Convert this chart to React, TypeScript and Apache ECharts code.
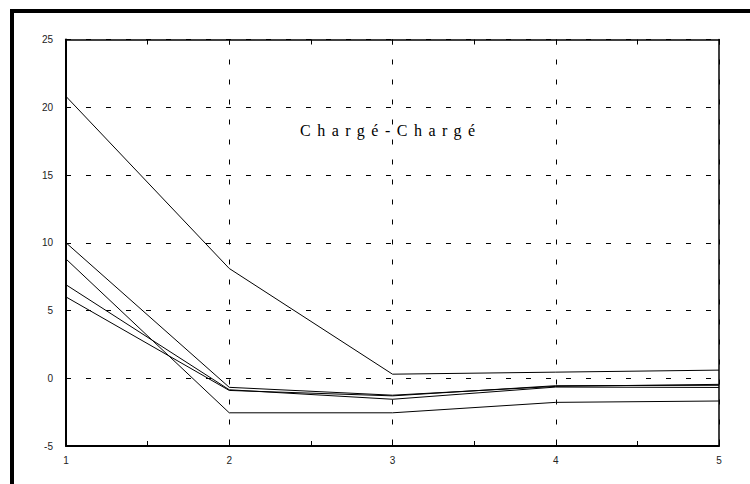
import React, { useEffect, useRef } from "react";
import * as echarts from "echarts";

const X_VALUES = [1, 2, 3, 4, 5];
const SERIES_A = [20.8, 8.1, 0.3, 0.45, 0.6];
const SERIES_B = [10.0, -0.67, -1.25, -0.6, -0.45];
const SERIES_C = [8.8, -2.55, -2.55, -1.78, -1.68];
const SERIES_D = [6.9, -0.85, -1.55, -0.65, -0.68];
const SERIES_E = [6.0, -0.9, -1.3, -0.55, -0.52];
const ALL_SERIES = [SERIES_A, SERIES_B, SERIES_C, SERIES_D, SERIES_E];
const TITLE = "Chargé-Chargé";

const LABEL_FONT = "'Liberation Sans', Arial, sans-serif";

export default function App() {
  const ref = useRef<HTMLDivElement>(null);

  useEffect(() => {
    if (!ref.current) return;
    const chart = echarts.init(ref.current, undefined, { renderer: "svg" });

    const series = ALL_SERIES.map((vals, i) => ({
      type: "line",
      name: "s" + i,
      data: X_VALUES.map((x, j) => [x, vals[j]]),
      xAxisIndex: 0,
      yAxisIndex: 0,
      symbol: "none",
      showSymbol: false,
      lineStyle: { color: "#000", width: 1 },
      itemStyle: { color: "#000" },
      silent: true,
    }));

    const dash = { type: [5, 15], color: "#000", width: 1 };

    chart.setOption({
      animation: false,
      backgroundColor: "#fff",
      grid: { left: 66, right: 31, top: 39.5, bottom: 38, containLabel: false },
      xAxis: [
        {
          type: "value",
          position: "bottom",
          min: 1,
          max: 5,
          interval: 1,
          axisLine: { show: true, onZero: false, lineStyle: { color: "#000", width: 2 } },
          axisTick: { show: true, inside: true, length: 5, lineStyle: { color: "#000" } },
          minorTick: { show: true, splitNumber: 2, length: 5, lineStyle: { color: "#000" } },
          axisLabel: { fontSize: 10, color: "#222", margin: 9, fontFamily: LABEL_FONT },
          splitLine: { show: true, lineStyle: dash },
        },
        {
          type: "value",
          position: "top",
          min: 1,
          max: 5,
          interval: 1,
          axisLine: { show: true, onZero: false, lineStyle: { color: "#000", width: 1.5 } },
          axisTick: { show: true, inside: true, length: 5, lineStyle: { color: "#000" } },
          minorTick: { show: true, splitNumber: 2, length: 5, lineStyle: { color: "#000" } },
          axisLabel: { show: false },
          splitLine: { show: false },
        },
      ],
      yAxis: [
        {
          type: "value",
          position: "left",
          min: -5,
          max: 25,
          interval: 5,
          axisLine: { show: true, onZero: false, lineStyle: { color: "#000", width: 2 } },
          axisTick: { show: false },
          axisLabel: {
            fontSize: 10,
            color: "#222",
            margin: 13,
            fontFamily: LABEL_FONT,
            padding: [5, 0, 0, 0],
          },
          splitLine: { show: true, lineStyle: dash },
        },
        {
          type: "value",
          position: "right",
          min: -5,
          max: 25,
          interval: 5,
          axisLine: { show: true, onZero: false, lineStyle: { color: "#000", width: 1.5 } },
          axisTick: { show: false },
          axisLabel: { show: false },
          splitLine: { show: false },
        },
      ],
      graphic: [
        {
          type: "rect",
          silent: true,
          shape: { x: 10, y: 9, width: 4, height: 475 },
          style: { fill: "#000" },
        },
        {
          type: "rect",
          silent: true,
          shape: { x: 10, y: 9, width: 740, height: 4 },
          style: { fill: "#000" },
        },
        {
          type: "text",
          silent: true,
          x: 300,
          y: 130,
          style: {
            text: TITLE,
            fill: "#000",
            fontSize: 16,
            fontFamily: "'Liberation Serif', 'Times New Roman', serif",
            textAlign: "left",
            textVerticalAlign: "middle",
          },
        },
      ],
      series,
    });

    const applySpacing = () => {
      if (!ref.current) return;
      ref.current.querySelectorAll("text").forEach((t) => {
        if (t.textContent === TITLE) {
          t.setAttribute("letter-spacing", "6.5");
        }
      });
    };
    applySpacing();
    chart.on("finished", applySpacing);
    const raf = requestAnimationFrame(applySpacing);

    return () => {
      cancelAnimationFrame(raf);
      chart.dispose();
    };
  }, []);

  return (
    <div
      ref={ref}
      style={{ position: "fixed", left: 0, top: 0, width: 750, height: 484, background: "#fff" }}
    />
  );
}
